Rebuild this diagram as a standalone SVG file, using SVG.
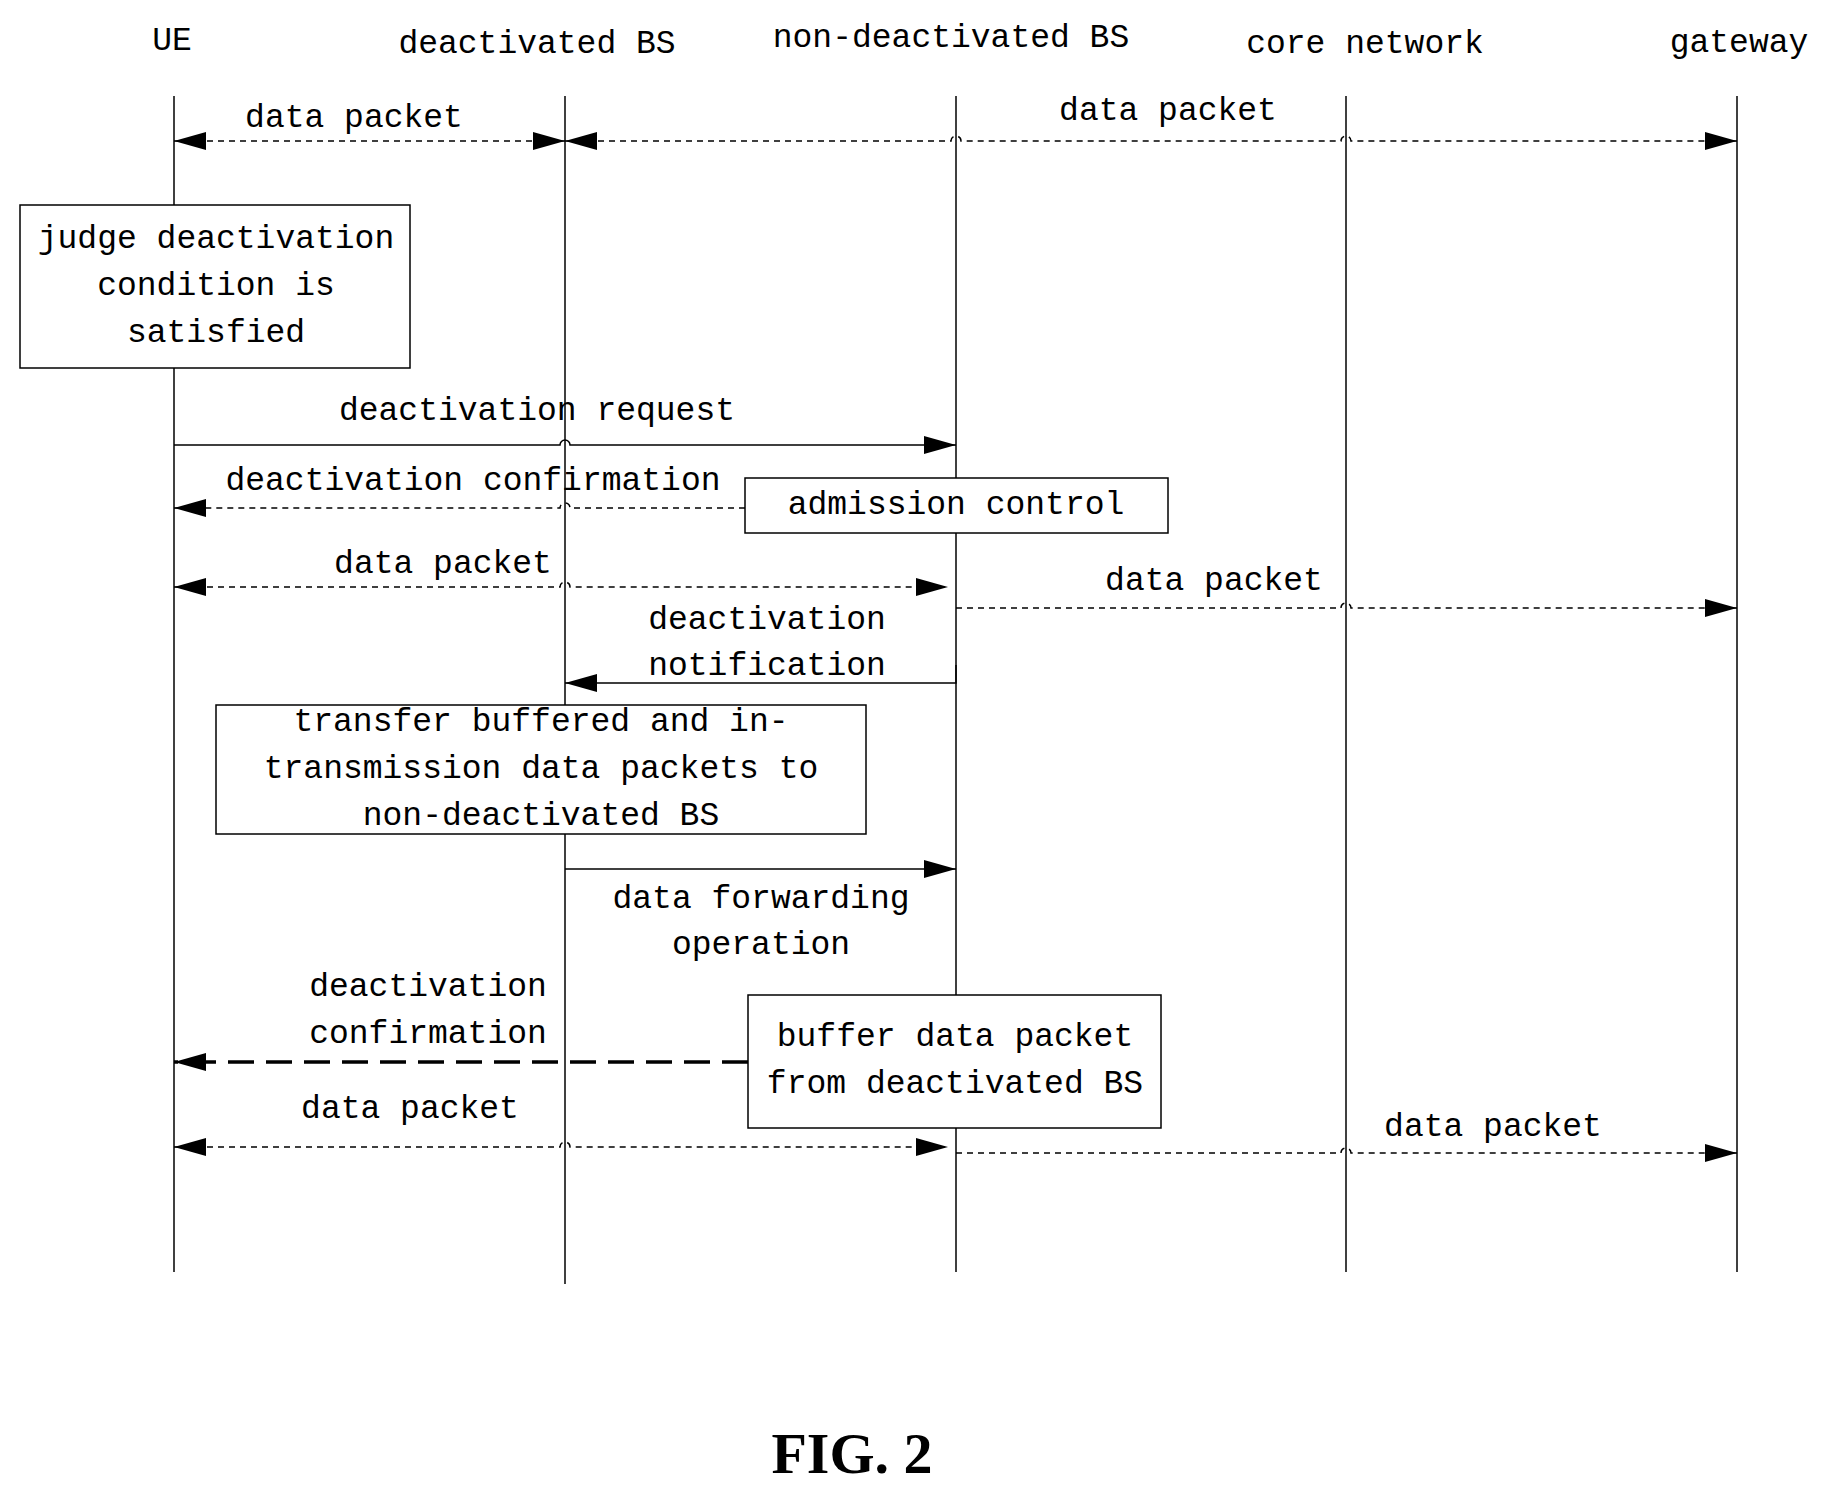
<svg xmlns="http://www.w3.org/2000/svg" width="1821" height="1489" viewBox="0 0 1821 1489">
<style>
text{font-family:"Liberation Mono",monospace;font-size:33px;fill:#000;text-anchor:middle;dominant-baseline:central}
.ll{stroke:#000;stroke-width:1.5;fill:none}
.d{stroke:#000;stroke-width:1.5;fill:none;stroke-dasharray:6,5}
.s{stroke:#000;stroke-width:1.5;fill:none}
.t{stroke:#000;stroke-width:3.5;fill:none;stroke-dasharray:26,12}
.box{fill:#fff;stroke:#000;stroke-width:1.5}
</style>
<defs>
<marker id="ae" markerUnits="userSpaceOnUse" markerWidth="32" markerHeight="18" refX="32" refY="9" orient="auto"><path d="M0,0 L32,9 L0,18 Z" fill="#000"/></marker>
<marker id="as" markerUnits="userSpaceOnUse" markerWidth="32" markerHeight="18" refX="0" refY="9" orient="auto"><path d="M32,0 L0,9 L32,18 Z" fill="#000"/></marker>
</defs>
<rect width="1821" height="1489" fill="#fff"/>
<g id="headers">
<text x="172" y="41">UE</text>
<text x="537" y="44">deactivated BS</text>
<text x="951" y="38">non-deactivated BS</text>
<text x="1365" y="44">core network</text>
<text x="1739" y="43">gateway</text>
</g>
<g id="lifelines">
<line class="ll" x1="174" y1="96" x2="174" y2="1272"/>
<line class="ll" x1="565" y1="96" x2="565" y2="1284"/>
<line class="ll" x1="956" y1="96" x2="956" y2="1272"/>
<line class="ll" x1="1346" y1="96" x2="1346" y2="1272"/>
<line class="ll" x1="1737" y1="96" x2="1737" y2="1272"/>
</g>
<g id="connectors">
<path class="d" d="M174,141 H565" marker-start="url(#as)" marker-end="url(#ae)"/>
<path class="d" d="M565,141 H951 a5,5 0 0 1 10,0 H1341 a5,5 0 0 1 10,0 H1737" marker-start="url(#as)" marker-end="url(#ae)"/>
<path class="s" d="M174,445 H560 a5,5 0 0 1 10,0 H956" marker-end="url(#ae)"/>
<path class="d" d="M745,508 H570 a5,5 0 0 0 -10,0 H174" marker-end="url(#ae)"/>
<path class="d" d="M174,587 H560 a5,5 0 0 1 10,0 H948" marker-start="url(#as)" marker-end="url(#ae)"/>
<path class="d" d="M956,608 H1341 a5,5 0 0 1 10,0 H1737" marker-end="url(#ae)"/>
<path class="s" d="M956,665 V683 H565" marker-end="url(#ae)"/>
<path class="s" d="M565,869 H956" marker-end="url(#ae)"/>
<path class="t" d="M748,1062 H174" marker-end="url(#ae)"/>
<path class="d" d="M174,1147 H560 a5,5 0 0 1 10,0 H948" marker-start="url(#as)" marker-end="url(#ae)"/>
<path class="d" d="M956,1153 H1341 a5,5 0 0 1 10,0 H1737" marker-end="url(#ae)"/>
</g>
<g id="labels">
<text x="354" y="118">data packet</text>
<text x="1168" y="111">data packet</text>
<text x="537" y="411">deactivation request</text>
<text x="473" y="481">deactivation confirmation</text>
<text x="443" y="564">data packet</text>
<text x="1214" y="581">data packet</text>
<text x="767" y="620">deactivation</text>
<text x="767" y="666">notification</text>
<text x="761" y="899">data forwarding</text>
<text x="761" y="945">operation</text>
<text x="428" y="987">deactivation</text>
<text x="428" y="1034">confirmation</text>
<text x="410" y="1109">data packet</text>
<text x="1493" y="1127">data packet</text>
</g>
<g id="judge">
<rect class="box" x="20" y="205" width="390" height="163"/>
<text x="216" y="239">judge deactivation</text>
<text x="216" y="286">condition is</text>
<text x="216" y="333">satisfied</text>
</g>
<g id="admission">
<rect class="box" x="745" y="478" width="423" height="55"/>
<text x="956" y="505">admission control</text>
</g>
<g id="transfer">
<rect class="box" x="216" y="705" width="650" height="129"/>
<text x="541" y="722">transfer buffered and in-</text>
<text x="541" y="769">transmission data packets to</text>
<text x="541" y="816">non-deactivated BS</text>
</g>
<g id="buffer">
<rect class="box" x="748" y="995" width="413" height="133"/>
<text x="955" y="1037">buffer data packet</text>
<text x="955" y="1084">from deactivated BS</text>
</g>
<text x="852" y="1453" style="font-family:'Liberation Serif',serif;font-weight:bold;font-size:58px">FIG. 2</text>
</svg>
